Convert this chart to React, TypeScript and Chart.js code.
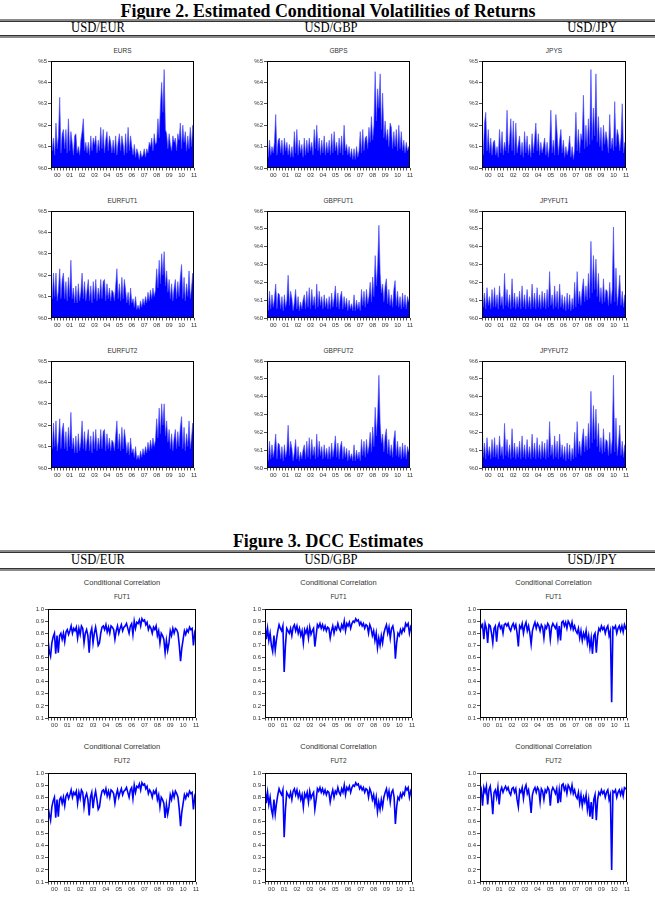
import React, { useEffect, useRef } from 'react';
import { Chart, registerables } from 'chart.js';

Chart.register(...registerables);

// ---------- tick labels ----------
const YEAR_LABELS = ['00', '01', '02', '03', '04', '05', '06', '07', '08', '09', '10', '11'];
const VOL5_TICKS = ['%0', '%1', '%2', '%3', '%4', '%5'];
const VOL6_TICKS = ['%0', '%1', '%2', '%3', '%4', '%5', '%6'];
const CORR_TICKS = ['0.1', '0.2', '0.3', '0.4', '0.5', '0.6', '0.7', '0.8', '0.9', '1.0'];
const X_START = 2000;
const X_END = 2011.5;

// ---------- Figure 2: conditional volatilities (%), 2000 -> mid 2011 ----------
const EURS_VOL = [
  2.0, 0.8, 1.4, 0.6, 2.1, 0.9, 1.5, 3.3, 0.7, 1.6,
  1.8, 0.9, 1.8, 0.7, 2.3, 0.8, 1.7, 1.2, 0.6, 1.5,
  1.6, 0.7, 1.0, 0.6, 1.3, 1.7, 2.3, 0.8, 1.2, 0.7,
  1.2, 0.6, 1.5, 0.8, 1.4, 1.1, 1.5, 0.7, 1.3, 0.8,
  1.9, 0.9, 1.8, 0.7, 1.3, 1.7, 0.8, 1.5, 1.2, 0.7,
  1.3, 0.7, 1.5, 0.6, 1.2, 1.6, 0.8, 1.5, 1.1, 0.6,
  1.6, 0.7, 1.9, 0.8, 1.5, 1.0, 0.6, 1.1, 0.5, 0.9,
  0.7, 0.4, 0.8, 0.5, 0.6, 0.9, 0.5, 0.9, 0.7, 1.2,
  1.0, 1.4, 0.8, 1.6, 1.1, 1.2, 2.3, 1.4, 2.9, 4.0,
  2.6, 4.6, 1.8, 1.6, 0.9, 1.6, 1.1, 0.8, 1.5, 1.2,
  1.4, 0.8, 1.6, 1.3, 2.1, 0.9, 2.0, 1.2, 1.7, 0.8,
  1.5, 0.9, 1.9, 1.0, 2.0, 1.6,
];
const GBPS_VOL = [
  1.3, 0.5, 1.3, 0.6, 1.0, 0.7, 1.2, 2.5, 0.6, 1.3,
  1.4, 0.7, 1.3, 0.6, 1.4, 0.8, 1.2, 0.6, 1.1, 0.5,
  1.0, 0.5, 1.7, 0.7, 1.8, 0.6, 1.3, 0.7, 1.1, 0.5,
  1.4, 0.6, 1.3, 0.7, 1.4, 0.8, 1.2, 0.6, 1.8, 0.9,
  2.0, 0.8, 1.4, 0.6, 1.3, 0.7, 1.5, 0.6, 1.2, 0.7,
  1.3, 0.6, 1.6, 0.7, 1.7, 0.8, 1.2, 0.6, 1.4, 0.7,
  1.5, 0.6, 2.0, 0.8, 1.1, 0.6, 1.0, 0.5, 0.9, 0.4,
  0.9, 0.4, 1.0, 0.5, 0.8, 1.7, 0.7, 1.8, 0.8, 1.4,
  1.5, 0.9, 1.9, 1.2, 2.4, 1.3, 2.0, 4.5, 2.2, 3.7,
  2.8, 4.4, 1.8, 3.5, 1.4, 2.2, 1.3, 1.8, 1.0, 2.1,
  1.9, 0.9, 1.7, 1.0, 1.8, 0.8, 2.0, 0.9, 1.7, 0.8,
  1.3, 0.7, 1.2, 0.8, 1.0, 0.9,
];
const JPYS_VOL = [
  1.3, 0.6, 2.1, 2.6, 0.8, 1.8, 0.7, 1.4, 0.6, 1.2,
  1.3, 0.6, 1.0, 0.5, 1.8, 0.7, 1.7, 0.6, 1.2, 0.8,
  2.7, 0.7, 1.3, 2.3, 0.8, 2.2, 0.6, 2.1, 0.7, 1.1,
  1.5, 0.6, 1.2, 0.5, 1.7, 0.7, 1.5, 0.6, 1.1, 0.5,
  1.6, 0.7, 1.3, 2.1, 0.8, 1.6, 0.6, 1.2, 0.7, 1.0,
  1.4, 0.6, 1.2, 0.5, 1.1, 2.7, 0.7, 1.3, 0.6, 2.5,
  1.6, 0.6, 1.3, 1.8, 0.7, 1.3, 0.5, 1.0, 0.6, 0.9,
  1.5, 0.5, 1.0, 0.4, 0.9, 2.6, 0.8, 1.8, 0.7, 1.6,
  1.3, 3.4, 0.9, 2.0, 1.0, 2.3, 1.1, 4.6, 1.3, 2.8,
  1.5, 4.4, 1.2, 2.4, 1.0, 1.9, 0.8, 2.0, 1.1, 1.7,
  1.3, 0.7, 2.5, 0.9, 1.4, 0.8, 3.1, 1.0, 1.8, 1.5,
  0.8, 1.4, 3.0, 0.7, 1.2, 0.8,
];
const EURFUT1_VOL = [
  1.5, 0.9, 2.1, 1.0, 2.1, 0.8, 1.3, 2.3, 0.9, 1.8,
  2.1, 0.9, 1.7, 0.8, 1.9, 1.0, 2.7, 0.9, 1.4, 0.7,
  1.5, 0.7, 1.6, 0.8, 1.2, 2.1, 0.9, 1.7, 0.8, 1.3,
  1.8, 0.8, 1.5, 0.7, 1.7, 0.9, 1.8, 0.8, 1.4, 0.9,
  1.8, 0.9, 1.7, 1.8, 0.8, 1.6, 0.9, 1.4, 0.8, 1.3,
  1.2, 0.8, 1.5, 2.3, 0.9, 1.6, 0.8, 1.9, 0.9, 1.8,
  1.3, 0.7, 1.2, 0.6, 1.4, 0.7, 0.9, 0.5, 1.0, 0.4,
  0.6, 0.4, 0.8, 0.5, 0.9, 0.6, 1.0, 0.7, 1.2, 0.8,
  1.3, 0.9, 1.4, 1.0, 1.3, 2.3, 1.4, 2.7, 1.6, 3.0,
  2.0, 3.1, 1.5, 2.2, 1.2, 1.8, 0.9, 1.6, 0.8, 1.4,
  1.8, 0.9, 1.7, 1.0, 1.9, 2.5, 0.9, 1.9, 0.8, 1.6,
  1.0, 2.2, 0.9, 1.4, 2.1, 1.2,
];
const GBPFUT1_VOL = [
  1.0, 0.4, 1.5, 0.5, 1.3, 0.6, 1.1, 1.9, 0.5, 1.4,
  1.3, 0.5, 1.2, 0.4, 1.3, 0.6, 1.0, 2.4, 0.7, 1.5,
  1.1, 0.4, 0.9, 1.6, 0.5, 1.2, 0.4, 0.9, 0.5, 1.0,
  1.3, 0.5, 1.5, 0.6, 1.7, 0.5, 1.6, 0.7, 1.2, 0.5,
  1.9, 0.6, 1.5, 0.7, 1.2, 0.5, 1.3, 0.6, 1.1, 0.5,
  1.2, 0.5, 1.4, 0.6, 1.1, 1.8, 0.6, 1.4, 0.5, 1.2,
  1.5, 0.5, 1.2, 0.6, 1.1, 0.4, 1.0, 0.5, 0.8, 0.4,
  1.3, 0.4, 1.0, 0.5, 0.9, 0.4, 1.6, 0.7, 1.5, 0.6,
  1.6, 0.8, 1.2, 2.0, 0.9, 2.3, 1.2, 3.5, 1.8, 3.0,
  5.2, 2.5, 1.4, 1.9, 0.9, 1.8, 2.2, 0.8, 1.6, 0.7,
  1.3, 0.6, 1.6, 2.1, 0.7, 1.5, 0.6, 1.2, 0.5, 1.4,
  0.6, 1.3, 0.5, 1.2, 0.9, 1.0,
];
const JPYFUT1_VOL = [
  2.8, 0.6, 1.4, 0.5, 1.7, 0.7, 1.2, 0.5, 1.6, 0.6,
  1.7, 0.6, 1.3, 0.5, 1.8, 0.7, 1.2, 0.5, 2.5, 0.7,
  1.6, 0.6, 1.3, 0.5, 2.2, 0.6, 1.4, 0.5, 1.2, 0.6,
  1.5, 0.5, 1.8, 0.6, 1.3, 0.5, 1.6, 0.6, 1.2, 0.5,
  1.9, 0.6, 1.4, 0.5, 1.7, 0.6, 1.3, 0.5, 1.5, 0.6,
  1.4, 0.5, 1.6, 0.6, 2.6, 0.7, 1.3, 0.5, 1.8, 0.6,
  1.5, 0.5, 1.9, 0.6, 1.3, 0.5, 1.2, 0.4, 1.4, 0.5,
  1.3, 0.4, 1.1, 0.5, 2.0, 0.6, 2.6, 0.8, 1.5, 0.7,
  1.6, 2.2, 0.9, 1.8, 1.0, 2.5, 1.1, 4.3, 1.4, 3.5,
  1.6, 3.3, 1.2, 2.5, 0.9, 1.7, 0.8, 2.2, 0.9, 1.6,
  1.5, 0.7, 2.0, 0.8, 1.6, 5.1, 0.9, 2.8, 0.7, 1.4,
  2.4, 0.7, 1.5, 0.6, 1.3, 0.8,
];
const EURFUT2_VOL = [
  1.5, 0.9, 2.1, 1.0, 2.2, 0.8, 1.3, 2.3, 0.9, 1.8,
  2.1, 0.9, 1.7, 0.8, 1.9, 1.0, 2.6, 0.9, 1.4, 0.7,
  1.5, 0.7, 1.6, 0.8, 1.2, 2.2, 0.9, 1.7, 0.8, 1.3,
  1.8, 0.8, 1.5, 0.7, 1.7, 0.9, 1.8, 0.8, 1.4, 0.9,
  1.8, 0.9, 1.7, 1.8, 0.8, 1.6, 0.9, 1.4, 0.8, 1.3,
  1.2, 0.8, 1.5, 2.2, 0.9, 1.6, 0.8, 1.9, 0.9, 1.8,
  1.3, 0.7, 1.2, 0.6, 1.4, 0.7, 0.9, 0.5, 1.0, 0.4,
  0.6, 0.4, 0.8, 0.5, 0.9, 0.6, 1.0, 0.7, 1.2, 0.8,
  1.3, 0.9, 1.4, 1.0, 1.3, 2.3, 1.4, 2.8, 1.6, 3.0,
  2.0, 3.0, 1.5, 2.2, 1.2, 1.8, 0.9, 1.6, 0.8, 1.4,
  1.8, 0.9, 1.7, 1.0, 1.9, 2.4, 0.9, 1.9, 0.8, 1.6,
  1.0, 2.2, 0.9, 1.4, 2.1, 1.2,
];
const GBPFUT2_VOL = [
  1.0, 0.4, 1.5, 0.5, 1.3, 0.6, 1.1, 1.9, 0.5, 1.4,
  1.3, 0.5, 1.2, 0.4, 1.3, 0.6, 1.0, 2.4, 0.7, 1.5,
  1.1, 0.4, 0.9, 1.6, 0.5, 1.2, 0.4, 0.9, 0.5, 1.0,
  1.3, 0.5, 1.5, 0.6, 1.7, 0.5, 1.6, 0.7, 1.2, 0.5,
  1.9, 0.6, 1.5, 0.7, 1.2, 0.5, 1.3, 0.6, 1.1, 0.5,
  1.2, 0.5, 1.4, 0.6, 1.1, 1.8, 0.6, 1.4, 0.5, 1.2,
  1.5, 0.5, 1.2, 0.6, 1.1, 0.4, 1.0, 0.5, 0.8, 0.4,
  1.3, 0.4, 1.0, 0.5, 0.9, 0.4, 1.6, 0.7, 1.5, 0.6,
  1.6, 0.8, 1.2, 2.0, 0.9, 2.3, 1.2, 3.4, 1.8, 3.0,
  5.2, 2.5, 1.4, 1.9, 0.9, 1.8, 2.2, 0.8, 1.6, 0.7,
  1.3, 0.6, 1.6, 2.1, 0.7, 1.5, 0.6, 1.2, 0.5, 1.4,
  0.6, 1.3, 0.5, 1.2, 0.9, 1.0,
];
const JPYFUT2_VOL = [
  2.8, 0.6, 1.4, 0.5, 1.7, 0.7, 1.2, 0.5, 1.6, 0.6,
  1.7, 0.6, 1.3, 0.5, 1.8, 0.7, 1.2, 0.5, 2.5, 0.7,
  1.6, 0.6, 1.3, 0.5, 2.2, 0.6, 1.4, 0.5, 1.2, 0.6,
  1.5, 0.5, 1.8, 0.6, 1.3, 0.5, 1.6, 0.6, 1.2, 0.5,
  1.9, 0.6, 1.4, 0.5, 1.7, 0.6, 1.3, 0.5, 1.5, 0.6,
  1.4, 0.5, 1.6, 0.6, 2.6, 0.7, 1.3, 0.5, 1.8, 0.6,
  1.5, 0.5, 1.9, 0.6, 1.3, 0.5, 1.2, 0.4, 1.4, 0.5,
  1.3, 0.4, 1.1, 0.5, 2.0, 0.6, 2.6, 0.8, 1.5, 0.7,
  1.6, 2.2, 0.9, 1.8, 1.0, 2.5, 1.1, 4.3, 1.4, 3.5,
  1.6, 3.3, 1.2, 2.5, 0.9, 1.7, 0.8, 2.2, 0.9, 1.6,
  1.5, 0.7, 2.0, 0.8, 1.6, 5.2, 0.9, 2.8, 0.7, 1.4,
  2.4, 0.7, 1.5, 0.6, 1.3, 0.8,
];

// ---------- Figure 3: DCC conditional correlations ----------
const EUR_CC_FUT1 = [
  0.75, 0.65, 0.61, 0.72, 0.77, 0.80, 0.63, 0.78, 0.64, 0.78,
  0.80, 0.75, 0.80, 0.73, 0.81, 0.83, 0.79, 0.82, 0.86, 0.80,
  0.84, 0.82, 0.85, 0.76, 0.84, 0.79, 0.86, 0.84, 0.72, 0.80,
  0.83, 0.78, 0.64, 0.80, 0.84, 0.72, 0.80, 0.85, 0.78, 0.70,
  0.72, 0.80, 0.85, 0.86, 0.83, 0.87, 0.81, 0.85, 0.80, 0.86,
  0.85, 0.83, 0.75, 0.82, 0.86, 0.80, 0.84, 0.87, 0.82, 0.85,
  0.86, 0.88, 0.84, 0.80, 0.86, 0.88, 0.79, 0.90, 0.84, 0.89,
  0.88, 0.91, 0.86, 0.92, 0.90, 0.91, 0.87, 0.89, 0.83, 0.86,
  0.84, 0.80, 0.85, 0.83, 0.86, 0.78, 0.82, 0.72, 0.80, 0.78,
  0.75, 0.64, 0.74, 0.66, 0.72, 0.82, 0.78, 0.84, 0.80, 0.84,
  0.83, 0.80, 0.70, 0.57, 0.68, 0.75, 0.82, 0.79, 0.83, 0.81,
  0.85, 0.83, 0.84, 0.70, 0.80, 0.76,
];
const EUR_CC_FUT2 = [
  0.72, 0.66, 0.61, 0.72, 0.77, 0.80, 0.63, 0.78, 0.64, 0.78,
  0.80, 0.75, 0.80, 0.73, 0.81, 0.83, 0.79, 0.82, 0.86, 0.80,
  0.84, 0.82, 0.85, 0.75, 0.84, 0.79, 0.86, 0.84, 0.72, 0.80,
  0.83, 0.78, 0.65, 0.80, 0.84, 0.71, 0.80, 0.85, 0.78, 0.70,
  0.72, 0.80, 0.85, 0.86, 0.83, 0.87, 0.81, 0.85, 0.80, 0.86,
  0.85, 0.83, 0.75, 0.82, 0.86, 0.80, 0.84, 0.87, 0.82, 0.85,
  0.86, 0.88, 0.84, 0.80, 0.86, 0.88, 0.79, 0.90, 0.84, 0.89,
  0.88, 0.91, 0.86, 0.92, 0.90, 0.91, 0.87, 0.89, 0.83, 0.86,
  0.84, 0.80, 0.85, 0.83, 0.86, 0.78, 0.82, 0.72, 0.80, 0.78,
  0.75, 0.63, 0.74, 0.66, 0.72, 0.82, 0.78, 0.84, 0.80, 0.85,
  0.83, 0.80, 0.70, 0.56, 0.68, 0.75, 0.82, 0.79, 0.83, 0.81,
  0.85, 0.83, 0.84, 0.70, 0.80, 0.76,
];
const GBP_CC_FUT1 = [
  0.88, 0.75, 0.84, 0.74, 0.80, 0.70, 0.65, 0.78, 0.66, 0.75,
  0.82, 0.87, 0.84, 0.82, 0.86, 0.48, 0.70, 0.84, 0.82, 0.80,
  0.84, 0.78, 0.85, 0.87, 0.82, 0.86, 0.80, 0.84, 0.78, 0.82,
  0.72, 0.83, 0.80, 0.84, 0.76, 0.85, 0.79, 0.82, 0.84, 0.69,
  0.78, 0.87, 0.85, 0.88, 0.84, 0.87, 0.83, 0.86, 0.82, 0.85,
  0.84, 0.76, 0.82, 0.86, 0.80, 0.85, 0.83, 0.88, 0.84, 0.82,
  0.87, 0.84, 0.90, 0.82, 0.88, 0.86, 0.89, 0.84, 0.88, 0.90,
  0.89, 0.92, 0.90, 0.91, 0.87, 0.89, 0.86, 0.88, 0.84, 0.87,
  0.86, 0.80, 0.87, 0.84, 0.78, 0.82, 0.74, 0.80, 0.68, 0.76,
  0.70, 0.78, 0.72, 0.80, 0.84, 0.87, 0.80, 0.85, 0.76, 0.84,
  0.86, 0.80, 0.59, 0.72, 0.80, 0.78, 0.83, 0.80, 0.84, 0.82,
  0.88, 0.86, 0.88, 0.80, 0.85, 0.82,
];
const GBP_CC_FUT2 = [
  0.88, 0.75, 0.84, 0.74, 0.80, 0.70, 0.65, 0.78, 0.66, 0.75,
  0.82, 0.87, 0.84, 0.82, 0.86, 0.47, 0.70, 0.84, 0.82, 0.80,
  0.84, 0.78, 0.85, 0.87, 0.82, 0.86, 0.80, 0.84, 0.78, 0.82,
  0.72, 0.83, 0.80, 0.84, 0.76, 0.85, 0.79, 0.82, 0.84, 0.70,
  0.78, 0.87, 0.85, 0.88, 0.84, 0.87, 0.83, 0.86, 0.82, 0.85,
  0.84, 0.76, 0.82, 0.86, 0.80, 0.85, 0.83, 0.88, 0.84, 0.82,
  0.87, 0.84, 0.90, 0.82, 0.88, 0.86, 0.89, 0.84, 0.88, 0.90,
  0.89, 0.92, 0.90, 0.91, 0.87, 0.89, 0.86, 0.88, 0.84, 0.87,
  0.86, 0.80, 0.87, 0.84, 0.78, 0.82, 0.74, 0.80, 0.68, 0.76,
  0.70, 0.78, 0.72, 0.80, 0.84, 0.87, 0.80, 0.85, 0.76, 0.84,
  0.86, 0.80, 0.58, 0.72, 0.80, 0.78, 0.83, 0.80, 0.84, 0.82,
  0.88, 0.86, 0.88, 0.80, 0.85, 0.82,
];
const JPY_CC_FUT1 = [
  0.90, 0.85, 0.87, 0.75, 0.88, 0.84, 0.72, 0.87, 0.86, 0.80,
  0.72, 0.84, 0.86, 0.73, 0.85, 0.88, 0.84, 0.86, 0.80, 0.87,
  0.88, 0.86, 0.88, 0.84, 0.82, 0.86, 0.88, 0.84, 0.87, 0.80,
  0.69, 0.86, 0.84, 0.88, 0.80, 0.86, 0.89, 0.82, 0.86, 0.80,
  0.71, 0.82, 0.86, 0.89, 0.84, 0.88, 0.86, 0.82, 0.87, 0.85,
  0.76, 0.86, 0.84, 0.88, 0.86, 0.75, 0.85, 0.88, 0.86, 0.84,
  0.87, 0.76, 0.86, 0.74, 0.89, 0.90, 0.86, 0.89, 0.84, 0.90,
  0.88, 0.84, 0.89, 0.83, 0.86, 0.82, 0.80, 0.84, 0.76, 0.82,
  0.74, 0.80, 0.76, 0.82, 0.72, 0.78, 0.68, 0.76, 0.63, 0.78,
  0.80, 0.64, 0.78, 0.84, 0.82, 0.86, 0.83, 0.85, 0.80, 0.84,
  0.86, 0.78, 0.82, 0.23, 0.85, 0.84, 0.86, 0.80, 0.84, 0.86,
  0.82, 0.86, 0.81, 0.87, 0.84, 0.86,
];
const JPY_CC_FUT2 = [
  0.82, 0.86, 0.73, 0.88, 0.84, 0.89, 0.74, 0.86, 0.89, 0.80,
  0.66, 0.84, 0.86, 0.80, 0.88, 0.74, 0.85, 0.88, 0.84, 0.87,
  0.89, 0.86, 0.88, 0.84, 0.82, 0.87, 0.88, 0.84, 0.87, 0.78,
  0.72, 0.86, 0.84, 0.88, 0.79, 0.87, 0.90, 0.83, 0.86, 0.78,
  0.67, 0.82, 0.86, 0.88, 0.84, 0.88, 0.86, 0.76, 0.87, 0.85,
  0.78, 0.86, 0.84, 0.88, 0.86, 0.73, 0.85, 0.88, 0.86, 0.83,
  0.87, 0.75, 0.86, 0.76, 0.90, 0.91, 0.86, 0.89, 0.83, 0.90,
  0.88, 0.84, 0.90, 0.83, 0.86, 0.81, 0.79, 0.84, 0.75, 0.82,
  0.73, 0.80, 0.76, 0.82, 0.70, 0.78, 0.64, 0.76, 0.62, 0.78,
  0.82, 0.61, 0.78, 0.84, 0.82, 0.86, 0.83, 0.85, 0.80, 0.84,
  0.86, 0.78, 0.82, 0.20, 0.85, 0.84, 0.86, 0.80, 0.84, 0.86,
  0.82, 0.86, 0.81, 0.88, 0.87, 0.88,
];

// ---------- layout ----------
const SANS = '"Liberation Sans", Arial, sans-serif';
const SERIF = '"Liberation Serif", "Times New Roman", serif';
const PAD = { l: 1, t: 6, r: 8, b: 1 };
const Y_W = 21;
const X_H = 13;

type PanelSpec = {
  key: string;
  kind: 'vol' | 'corr';
  titles: string[];
  values: number[];
  yLabels: string[];
  left: number;
  top: number;
  width: number;
  height: number;
};

const VOL_COLS = [51, 267, 482];
const VOL_ROWS = [61, 211, 361];
const CORR_COLS = [48, 265, 480];
const CORR_ROWS = [609, 773];

const PANELS: PanelSpec[] = [
  { key: 'eurs', kind: 'vol', titles: ['EURS'], values: EURS_VOL, yLabels: VOL5_TICKS, left: VOL_COLS[0], top: VOL_ROWS[0], width: 143, height: 107 },
  { key: 'gbps', kind: 'vol', titles: ['GBPS'], values: GBPS_VOL, yLabels: VOL5_TICKS, left: VOL_COLS[1], top: VOL_ROWS[0], width: 143, height: 107 },
  { key: 'jpys', kind: 'vol', titles: ['JPYS'], values: JPYS_VOL, yLabels: VOL5_TICKS, left: VOL_COLS[2], top: VOL_ROWS[0], width: 144, height: 107 },
  { key: 'eurf1', kind: 'vol', titles: ['EURFUT1'], values: EURFUT1_VOL, yLabels: VOL5_TICKS, left: VOL_COLS[0], top: VOL_ROWS[1], width: 143, height: 107 },
  { key: 'gbpf1', kind: 'vol', titles: ['GBPFUT1'], values: GBPFUT1_VOL, yLabels: VOL6_TICKS, left: VOL_COLS[1], top: VOL_ROWS[1], width: 143, height: 107 },
  { key: 'jpyf1', kind: 'vol', titles: ['JPYFUT1'], values: JPYFUT1_VOL, yLabels: VOL6_TICKS, left: VOL_COLS[2], top: VOL_ROWS[1], width: 144, height: 107 },
  { key: 'eurf2', kind: 'vol', titles: ['EURFUT2'], values: EURFUT2_VOL, yLabels: VOL5_TICKS, left: VOL_COLS[0], top: VOL_ROWS[2], width: 143, height: 107 },
  { key: 'gbpf2', kind: 'vol', titles: ['GBPFUT2'], values: GBPFUT2_VOL, yLabels: VOL6_TICKS, left: VOL_COLS[1], top: VOL_ROWS[2], width: 143, height: 107 },
  { key: 'jpyf2', kind: 'vol', titles: ['JPYFUT2'], values: JPYFUT2_VOL, yLabels: VOL6_TICKS, left: VOL_COLS[2], top: VOL_ROWS[2], width: 144, height: 107 },
  { key: 'eurc1', kind: 'corr', titles: ['Conditional Correlation', 'FUT1'], values: EUR_CC_FUT1, yLabels: CORR_TICKS, left: CORR_COLS[0], top: CORR_ROWS[0], width: 148, height: 109 },
  { key: 'gbpc1', kind: 'corr', titles: ['Conditional Correlation', 'FUT1'], values: GBP_CC_FUT1, yLabels: CORR_TICKS, left: CORR_COLS[1], top: CORR_ROWS[0], width: 147, height: 109 },
  { key: 'jpyc1', kind: 'corr', titles: ['Conditional Correlation', 'FUT1'], values: JPY_CC_FUT1, yLabels: CORR_TICKS, left: CORR_COLS[2], top: CORR_ROWS[0], width: 147, height: 109 },
  { key: 'eurc2', kind: 'corr', titles: ['Conditional Correlation', 'FUT2'], values: EUR_CC_FUT2, yLabels: CORR_TICKS, left: CORR_COLS[0], top: CORR_ROWS[1], width: 148, height: 109 },
  { key: 'gbpc2', kind: 'corr', titles: ['Conditional Correlation', 'FUT2'], values: GBP_CC_FUT2, yLabels: CORR_TICKS, left: CORR_COLS[1], top: CORR_ROWS[1], width: 147, height: 109 },
  { key: 'jpyc2', kind: 'corr', titles: ['Conditional Correlation', 'FUT2'], values: JPY_CC_FUT2, yLabels: CORR_TICKS, left: CORR_COLS[2], top: CORR_ROWS[1], width: 147, height: 109 },
];

// quarterly tick positions on the time axis
const X_TICK_VALUES: number[] = [];
for (let q = 0; q <= Math.round((X_END - X_START) * 4); q++) X_TICK_VALUES.push(X_START + q * 0.25);

const framePlugin = {
  id: 'frameBox',
  afterDatasetsDraw(chart: any) {
    const { ctx, chartArea: a } = chart;
    ctx.save();
    ctx.strokeStyle = '#000';
    ctx.lineWidth = 1;
    ctx.strokeRect(a.left + 0.5, a.top + 0.5, a.right - a.left - 1, a.bottom - a.top - 1);
    ctx.restore();
  },
};

function buildConfig(p: PanelSpec): any {
  const n = p.values.length;
  const points = p.values.map((v, i) => ({ x: X_START + (i * (X_END - X_START)) / (n - 1), y: v }));
  const yVals = p.yLabels.map((s) => parseFloat(s.replace('%', '')));
  const isVol = p.kind === 'vol';
  const tickFont = { family: SANS, size: 6 };
  return {
    type: 'line',
    data: {
      datasets: [
        {
          data: points,
          borderColor: isVol ? 'rgba(70,70,255,0.9)' : '#0000ff',
          backgroundColor: '#0000ff',
          borderWidth: isVol ? 0.7 : 1.6,
          fill: isVol ? 'origin' : false,
          pointRadius: 0,
          tension: 0,
        },
      ],
    },
    options: {
      animation: false,
      responsive: false,
      maintainAspectRatio: false,
      events: [],
      layout: { padding: { left: PAD.l, top: PAD.t, right: PAD.r, bottom: PAD.b } },
      plugins: { legend: { display: false }, tooltip: { enabled: false }, title: { display: false } },
      scales: {
        x: {
          type: 'linear',
          min: X_START,
          max: X_END,
          afterBuildTicks: (s: any) => {
            s.ticks = X_TICK_VALUES.map((v) => ({ value: v }));
          },
          afterFit: (s: any) => {
            s.height = X_H;
          },
          ticks: {
            autoSkip: false,
            maxRotation: 0,
            minRotation: 0,
            padding: 1,
            font: tickFont,
            color: '#333',
            callback: (value: any) => {
              const v = Number(value);
              const f = Math.floor(v + 1e-9);
              return Math.abs(v - f - 0.5) < 1e-6 ? YEAR_LABELS[f - X_START] : '';
            },
          },
          grid: { drawOnChartArea: false, drawTicks: true, tickLength: 2.5, color: '#222', lineWidth: 0.8 },
          border: { display: false },
        },
        y: {
          type: 'linear',
          min: yVals[0],
          max: yVals[yVals.length - 1],
          afterBuildTicks: (s: any) => {
            s.ticks = yVals.map((v) => ({ value: v }));
          },
          afterFit: (s: any) => {
            s.width = Y_W;
          },
          ticks: {
            autoSkip: false,
            padding: 1,
            font: tickFont,
            color: '#333',
            callback: (_v: any, i: number) => p.yLabels[i],
          },
          grid: { drawOnChartArea: false, drawTicks: true, tickLength: 3, color: '#222', lineWidth: 0.8 },
          border: { display: false },
        },
      },
    },
    plugins: [framePlugin],
  };
}

const centerText: React.CSSProperties = {
  position: 'absolute',
  transform: 'translate(-50%, -50%)',
  fontFamily: SANS,
  color: '#333',
  whiteSpace: 'nowrap',
  lineHeight: 1,
};

function Panel({ p }: { p: PanelSpec }) {
  const ref = useRef<HTMLCanvasElement>(null);
  const cw = p.width + PAD.l + Y_W + PAD.r;
  const ch = p.height + PAD.t + X_H + PAD.b;
  const cl = p.left - PAD.l - Y_W;
  const ct = p.top - PAD.t;
  useEffect(() => {
    const chart = new Chart(ref.current as HTMLCanvasElement, buildConfig(p));
    return () => chart.destroy();
  }, []);
  const cx = p.left + p.width / 2;
  return (
    <>
      {p.kind === 'vol' ? (
        <div style={{ ...centerText, left: cx, top: p.top - 10, fontSize: 6.5 }}>{p.titles[0]}</div>
      ) : (
        <>
          <div style={{ ...centerText, left: cx, top: p.top - 26, fontSize: 7.5 }}>{p.titles[0]}</div>
          <div style={{ ...centerText, left: cx, top: p.top - 12, fontSize: 6.5 }}>{p.titles[1]}</div>
        </>
      )}
      <canvas
        ref={ref}
        width={cw}
        height={ch}
        style={{ position: 'absolute', left: cl, top: ct, width: cw, height: ch }}
      />
    </>
  );
}

const COL_HEADERS = ['USD/EUR', 'USD/GBP', 'USD/JPY'];
const HEADER_CENTERS = [98, 331, 592];

function Section({ title, titleY, ruleTop, headY, ruleBottom }: { title: string; titleY: number; ruleTop: number; headY: number; ruleBottom: number }) {
  return (
    <>
      <div
        style={{
          position: 'absolute',
          left: 328,
          top: titleY,
          transform: 'translate(-50%, -50%) scaleX(0.94)',
          fontFamily: SERIF,
          fontWeight: 'bold',
          fontSize: 19,
          whiteSpace: 'nowrap',
          lineHeight: 1,
          color: '#000',
        }}
      >
        {title}
      </div>
      <div style={{ position: 'absolute', left: 0, width: 655, top: ruleTop, height: 2, background: '#8a8a8a' }} />
      <div style={{ position: 'absolute', left: 0, width: 655, top: ruleTop + 2, height: 1, background: '#333' }} />
      {COL_HEADERS.map((h, i) => (
        <div
          key={h}
          style={{
            position: 'absolute',
            left: HEADER_CENTERS[i],
            top: headY,
            transform: 'translate(-50%, -50%) scaleX(0.9)',
            fontFamily: SERIF,
            fontSize: 14,
            whiteSpace: 'nowrap',
            lineHeight: 1,
            color: '#000',
          }}
        >
          {h}
        </div>
      ))}
      <div style={{ position: 'absolute', left: 0, width: 655, top: ruleBottom, height: 1, background: '#333' }} />
      <div style={{ position: 'absolute', left: 0, width: 655, top: ruleBottom + 1, height: 2, background: '#8a8a8a' }} />
    </>
  );
}

export default function App() {
  return (
    <div style={{ position: 'absolute', left: 0, top: 0, width: 655, height: 912, background: '#fff', overflow: 'hidden' }}>
      <Section title="Figure 2. Estimated Conditional Volatilities of Returns" titleY={10} ruleTop={19} headY={28} ruleBottom={35} />
      <Section title="Figure 3. DCC Estimates" titleY={540} ruleTop={550} headY={560} ruleBottom={568} />
      {PANELS.map((p) => (
        <Panel key={p.key} p={p} />
      ))}
    </div>
  );
}
